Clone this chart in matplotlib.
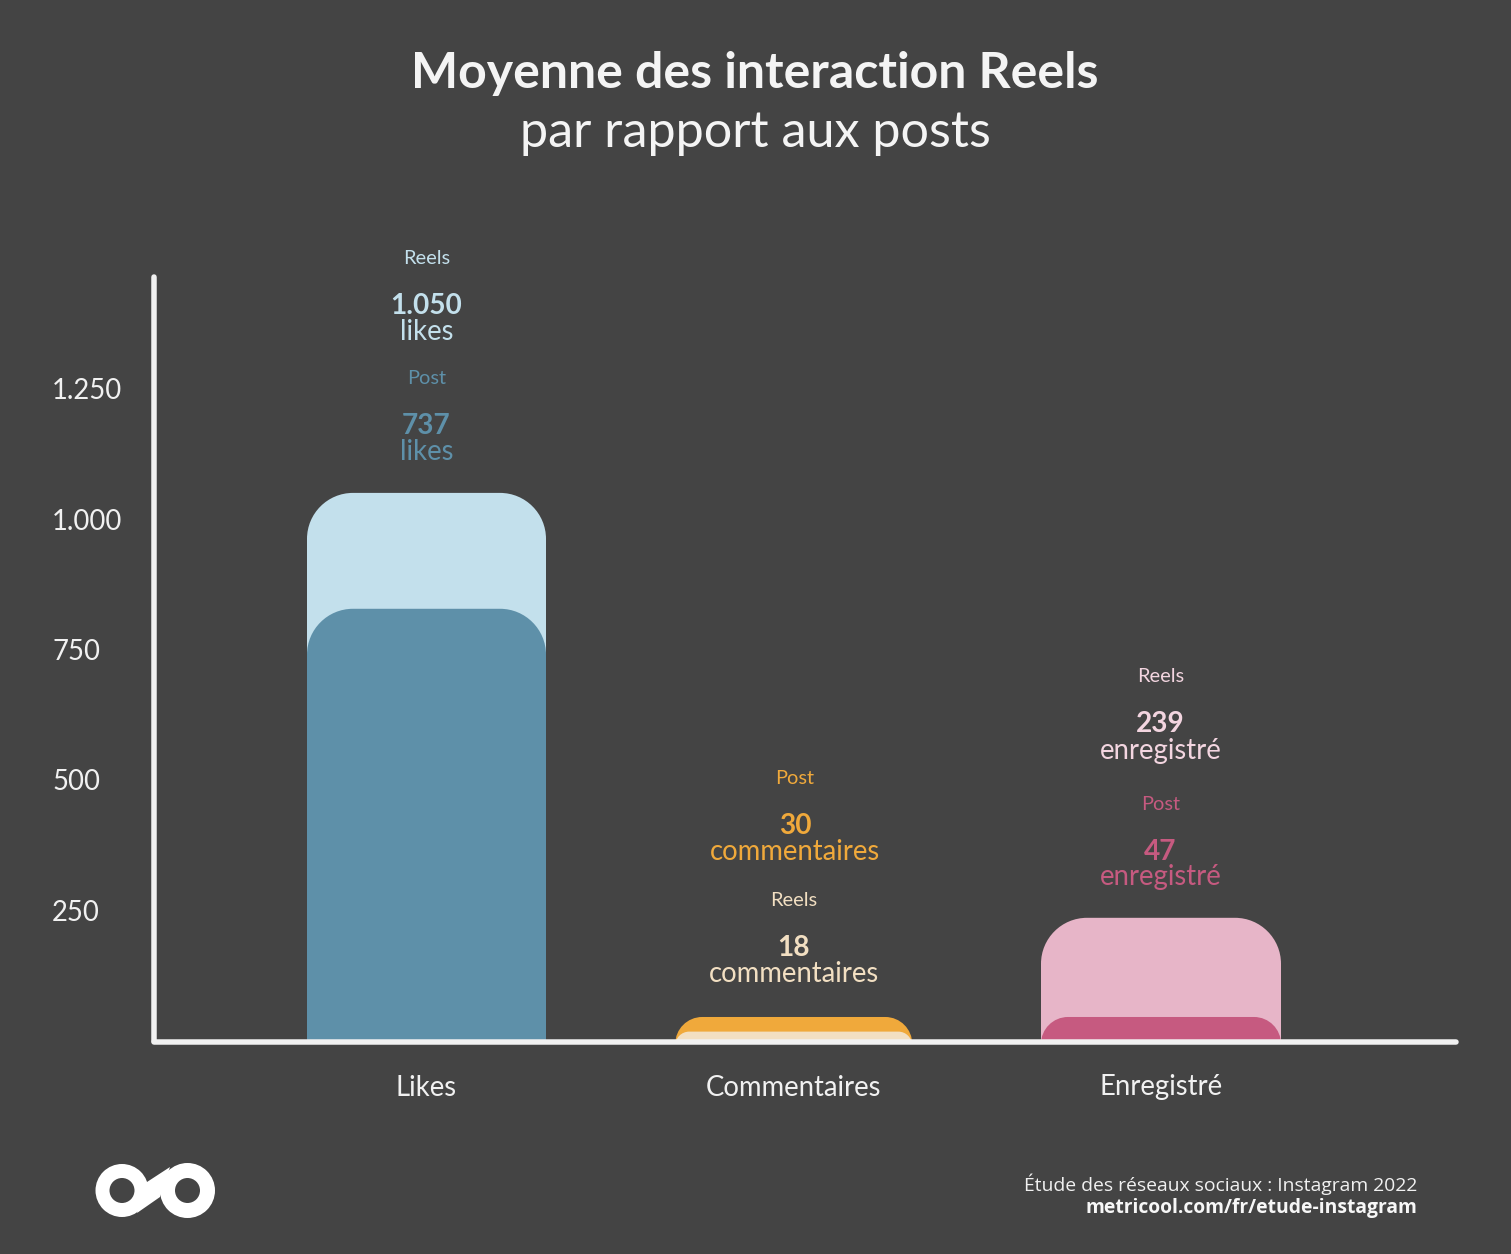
#!/usr/bin/env python3
"""Moyenne des interactions Reels par rapport aux posts (Metricool, Instagram 2022)."""

import matplotlib
matplotlib.use("Agg")
import matplotlib.pyplot as plt
from matplotlib.patches import Circle, PathPatch, Polygon
from matplotlib.path import Path

W, H = 1511, 1254

categories = ["Likes", "Commentaires", "Enregistré"]
y_ticks = [250, 500, 750, 1000, 1250]
y_tick_labels = ["250", "500", "750", "1.000", "1.250"]

# bar heights as drawn in the picture (the post bars do not follow their labels)
reels_heights = [1050, 18, 236]
post_heights = [828, 46, 46]

reels_labels = ["1.050", "18", "239"]
post_labels = ["737", "30", "47"]
units = ["likes", "commentaires", "enregistré"]

BG = "#444444"
AXIS = "#F1F1F1"
REELS_COLORS = ["#C3E0EC", "#F2DFC2", "#E7B5C8"]
POST_COLORS = ["#5E90A9", "#F0A93B", "#C65A80"]
REELS_RADIUS = [46, 14, 46]
POST_RADIUS = [46, 27, 27]
BAR_WIDTHS = [239, 237, 240]

FONT = "Lato"
PX = 0.72  # px to pt at dpi 100
K = 0.5523

# axes box in pixels
AX_LEFT, AX_RIGHT, AX_TOP, AX_BOTTOM = 154, 1456, 277, 1041
PX_PER_UNIT = 0.522
PX_PER_CAT = 367.25
CAT0_X = 426.5


def rounded_bar(ax, x, height, width_px, radius_px, color, zorder):
    """Bar with rounded top, drawn through data coords and clipped at the baseline."""
    half = width_px / PX_PER_CAT / 2
    rx = radius_px / PX_PER_CAT
    ry = radius_px / PX_PER_UNIT
    x0, x1 = x - half, x + half
    low = -200
    verts = [
        (x0, low), (x0, height - ry),
        (x0, height - ry + K * ry), (x0 + rx - K * rx, height), (x0 + rx, height),
        (x1 - rx, height),
        (x1 - rx + K * rx, height), (x1, height - ry + K * ry), (x1, height - ry),
        (x1, low), (x0, low),
    ]
    codes = [Path.MOVETO, Path.LINETO,
             Path.CURVE4, Path.CURVE4, Path.CURVE4,
             Path.LINETO,
             Path.CURVE4, Path.CURVE4, Path.CURVE4,
             Path.LINETO, Path.CLOSEPOLY]
    patch = PathPatch(Path(verts, codes), facecolor=color, edgecolor="none", zorder=zorder)
    ax.add_patch(patch)
    patch.set_clip_path(ax.patch)


def px_text(fig, x, y, s, size, color, weight="normal", ha="center", family=FONT):
    fig.text(x / W, 1 - y / H, s, fontsize=size * PX, color=color, fontweight=weight,
             ha=ha, va="center", family=family)


def draw_block(fig, x, y, head, value, unit, head_color, color):
    """Small header, bold value, unit below: y is the centre of the header."""
    px_text(fig, x, y + 1, head, 20, head_color)
    px_text(fig, x, y + 48.5, value, 28, color, weight="bold")
    px_text(fig, x, y + 74.5, unit, 27.5, color)


def draw_logo(fig):
    over = fig.add_axes([0, 0, 1, 1], zorder=5)
    over.set_xlim(0, W)
    over.set_ylim(H, 0)
    over.axis("off")
    over.add_patch(Polygon([(147, 1182), (170, 1167), (160, 1197), (137, 1213)],
                           facecolor="white", edgecolor="none"))
    for cx, r_out in [(122, 26.5), (187.5, 27.5)]:
        over.add_patch(Circle((cx, 1190.5), r_out, facecolor="white", edgecolor="none"))
        over.add_patch(Circle((cx, 1190.5), 12.5, facecolor=BG, edgecolor="none"))


def main():
    fig = plt.figure(figsize=(W / 100, H / 100), dpi=100, facecolor=BG)
    ax = fig.add_axes([AX_LEFT / W, 1 - AX_BOTTOM / H,
                       (AX_RIGHT - AX_LEFT) / W, (AX_BOTTOM - AX_TOP) / H])
    ax.set_facecolor(BG)
    ax.set_xlim((AX_LEFT - CAT0_X) / PX_PER_CAT, (AX_RIGHT - CAT0_X) / PX_PER_CAT)
    ax.set_ylim(0, (AX_BOTTOM - AX_TOP) / PX_PER_UNIT)

    for i in range(len(categories)):
        # orange sits behind the cream bar, in the other two the reels bar is behind
        post_z = 2 if i == 1 else 3
        reels_z = 3 if i == 1 else 2
        rounded_bar(ax, i, reels_heights[i], BAR_WIDTHS[i], REELS_RADIUS[i], REELS_COLORS[i], reels_z)
        rounded_bar(ax, i, post_heights[i], BAR_WIDTHS[i], POST_RADIUS[i], POST_COLORS[i], post_z)

    for side in ["top", "right"]:
        ax.spines[side].set_visible(False)
    for side in ["left", "bottom"]:
        ax.spines[side].set_color(AXIS)
        ax.spines[side].set_linewidth(5.5 * PX)
        ax.spines[side].set_capstyle("round")
        ax.spines[side].set_zorder(6)
    ax.spines["bottom"].set_position(("outward", 1 * PX))

    ax.set_yticks(y_ticks)
    ax.set_yticklabels(y_tick_labels, ha="left", family=FONT, fontsize=27.5 * PX, color="#F1F1F1")
    ax.tick_params(axis="y", length=0, pad=(AX_LEFT - 52) * PX)
    ax.set_xticks(range(len(categories)))
    ax.set_xticklabels(categories, family=FONT, fontsize=27.5 * PX, color="#F1F1F1")
    ax.tick_params(axis="x", length=0, pad=32.5 * PX)

    px_text(fig, 755, 73, "Moyenne des interaction Reels", 50, "#F4F4F4", weight="bold")
    px_text(fig, 755, 133, "par rapport aux posts", 50.2, "#F4F4F4")

    # likes
    draw_block(fig, 426.5, 257, "Reels", reels_labels[0], units[0], REELS_COLORS[0], REELS_COLORS[0])
    draw_block(fig, 426.5, 378, "Post", post_labels[0], units[0], POST_COLORS[0], POST_COLORS[0])
    # commentaires
    draw_block(fig, 795, 778, "Post", post_labels[1], units[1], POST_COLORS[1], POST_COLORS[1])
    draw_block(fig, 793.5, 900, "Reels", reels_labels[1], units[1], REELS_COLORS[1], REELS_COLORS[1])
    # enregistre
    draw_block(fig, 1160.5, 676, "Reels", reels_labels[2], units[2], "#F3D5E0", "#F3D5E0")
    draw_block(fig, 1160.5, 803, "Post", post_labels[2], units[2], POST_COLORS[2], POST_COLORS[2])

    px_text(fig, 1417, 1184, "Étude des réseaux sociaux : Instagram 2022", 19.3, "#F1F1F1",
            ha="right", family="Open Sans")
    px_text(fig, 1417, 1208, "metricool.com/fr/etude-instagram", 19.3, "#F7F7F7",
            weight="bold", ha="right", family="Open Sans")

    draw_logo(fig)

    fig.savefig("out.png", dpi=100, facecolor=BG)
    plt.close(fig)


if __name__ == "__main__":
    main()
